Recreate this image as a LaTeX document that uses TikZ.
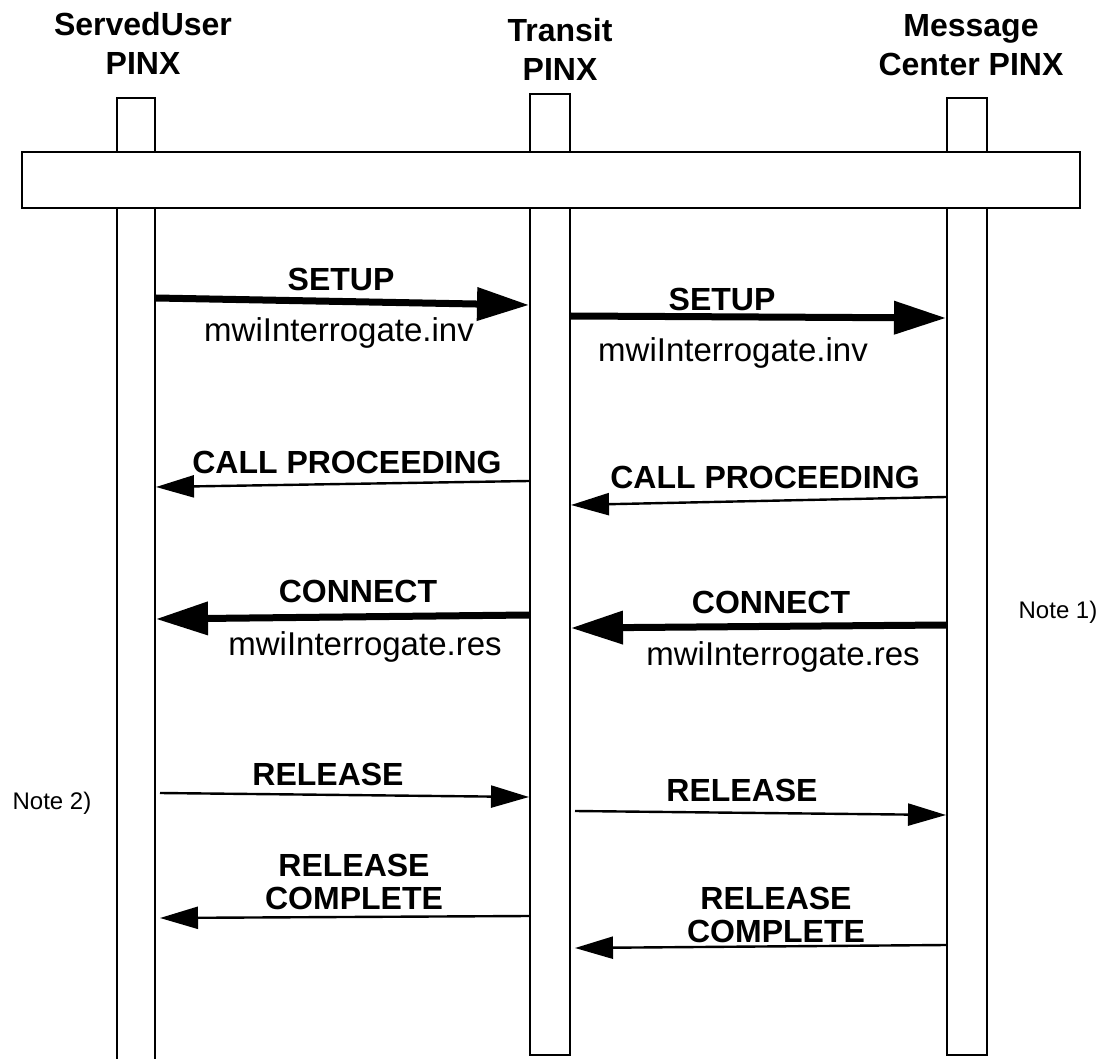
\documentclass[tikz,border=0pt]{standalone}
\usepackage{fontspec}
\setmainfont{Liberation Sans}
\usetikzlibrary{arrows.meta}
\tikzset{
  lifeline/.style={draw, line width=1pt, fill=white, minimum width=20pt, inner sep=0pt},
  head/.style={font=\fontsize{16}{19.5}\selectfont\bfseries, align=center},
  msgname/.style={font=\fontsize{16}{16.5}\selectfont\bfseries, align=center},
  param/.style={font=\fontsize{16.5}{16.5}\selectfont},
  note/.style={font=\fontsize{12}{12}\selectfont},
  bigmsg/.style={line width=3.5pt, -{Triangle[length=26pt,width=16pt]}},
  smallmsg/.style={line width=1.2pt, -{Triangle[length=19pt,width=11pt]}},
}
\begin{document}
\begin{tikzpicture}[x=0.5pt, y=-0.5pt]
  \useasboundingbox (0,0) rectangle (1098,1059);
  \clip (0,0) rectangle (1098,1059);
  % entities
  \node[head] (hsu) at (143,43) {ServedUser\\PINX};
  \node[head] (htr) at (560,49) {Transit\\PINX};
  \node[head] (hmc) at (971,45) {Message\\Center PINX};
  % lifelines
  \node[lifeline, minimum width=19pt, minimum height=486pt] (su) at (136,584) {};
  \node[lifeline, minimum height=480.5pt] (tr) at (550,574.5) {};
  \node[lifeline, minimum height=478.5pt] (mc) at (967,576.5) {};
  \node[lifeline, minimum width=529pt, minimum height=28pt] (ctx) at (551,180) {};
  % SETUP
  \draw[bigmsg] (su.east |- 0,298) -- (tr.west |- 0,305);
  \node[msgname] (setup1) at (341,279) {SETUP};
  \node[param] (inv1) at (339,333) {mwiInterrogate.inv};
  \draw[bigmsg] (tr.east |- 0,316) -- (mc.west |- 0,318);
  \node[msgname] (setup2) at (722,299) {SETUP};
  \node[param] (inv2) at (733,353) {mwiInterrogate.inv};
  % CALL PROCEEDING
  \draw[smallmsg] (tr.west |- 0,481) -- (su.east |- 0,487);
  \node[msgname] (cp1) at (347,462) {CALL PROCEEDING};
  \draw[smallmsg] (mc.west |- 0,497) -- (tr.east |- 0,505);
  \node[msgname] (cp2) at (765,477) {CALL PROCEEDING};
  % CONNECT
  \draw[bigmsg] (tr.west |- 0,615) -- (su.east |- 0,619);
  \node[msgname] (conn1) at (358,591) {CONNECT};
  \node[param] (res1) at (365,647) {mwiInterrogate.res};
  \draw[bigmsg] (mc.west |- 0,625) -- (tr.east |- 0,628);
  \node[msgname] (conn2) at (771,602) {CONNECT};
  \node[param] (res2) at (783,657) {mwiInterrogate.res};
  \node[note] (note1) at (1058,612) {Note 1)};
  % RELEASE
  \draw[smallmsg] ([xshift=2pt]su.east |- 0,793) -- (tr.west |- 0,797);
  \node[msgname] (rel1) at (328,774) {RELEASE};
  \draw[smallmsg] ([xshift=2pt]tr.east |- 0,811) -- (mc.west |- 0,815);
  \node[msgname] (rel2) at (742,790) {RELEASE};
  \node[note] (note2) at (52,803) {Note 2)};
  % RELEASE COMPLETE
  \draw[smallmsg] (tr.west |- 0,916) -- ([xshift=2pt]su.east |- 0,918);
  \node[msgname] (rc1) at (354,882) {RELEASE\\COMPLETE};
  \draw[smallmsg] (mc.west |- 0,945) -- ([xshift=2pt]tr.east |- 0,948);
  \node[msgname] (rc2) at (776,915) {RELEASE\\COMPLETE};
\end{tikzpicture}
\end{document}
